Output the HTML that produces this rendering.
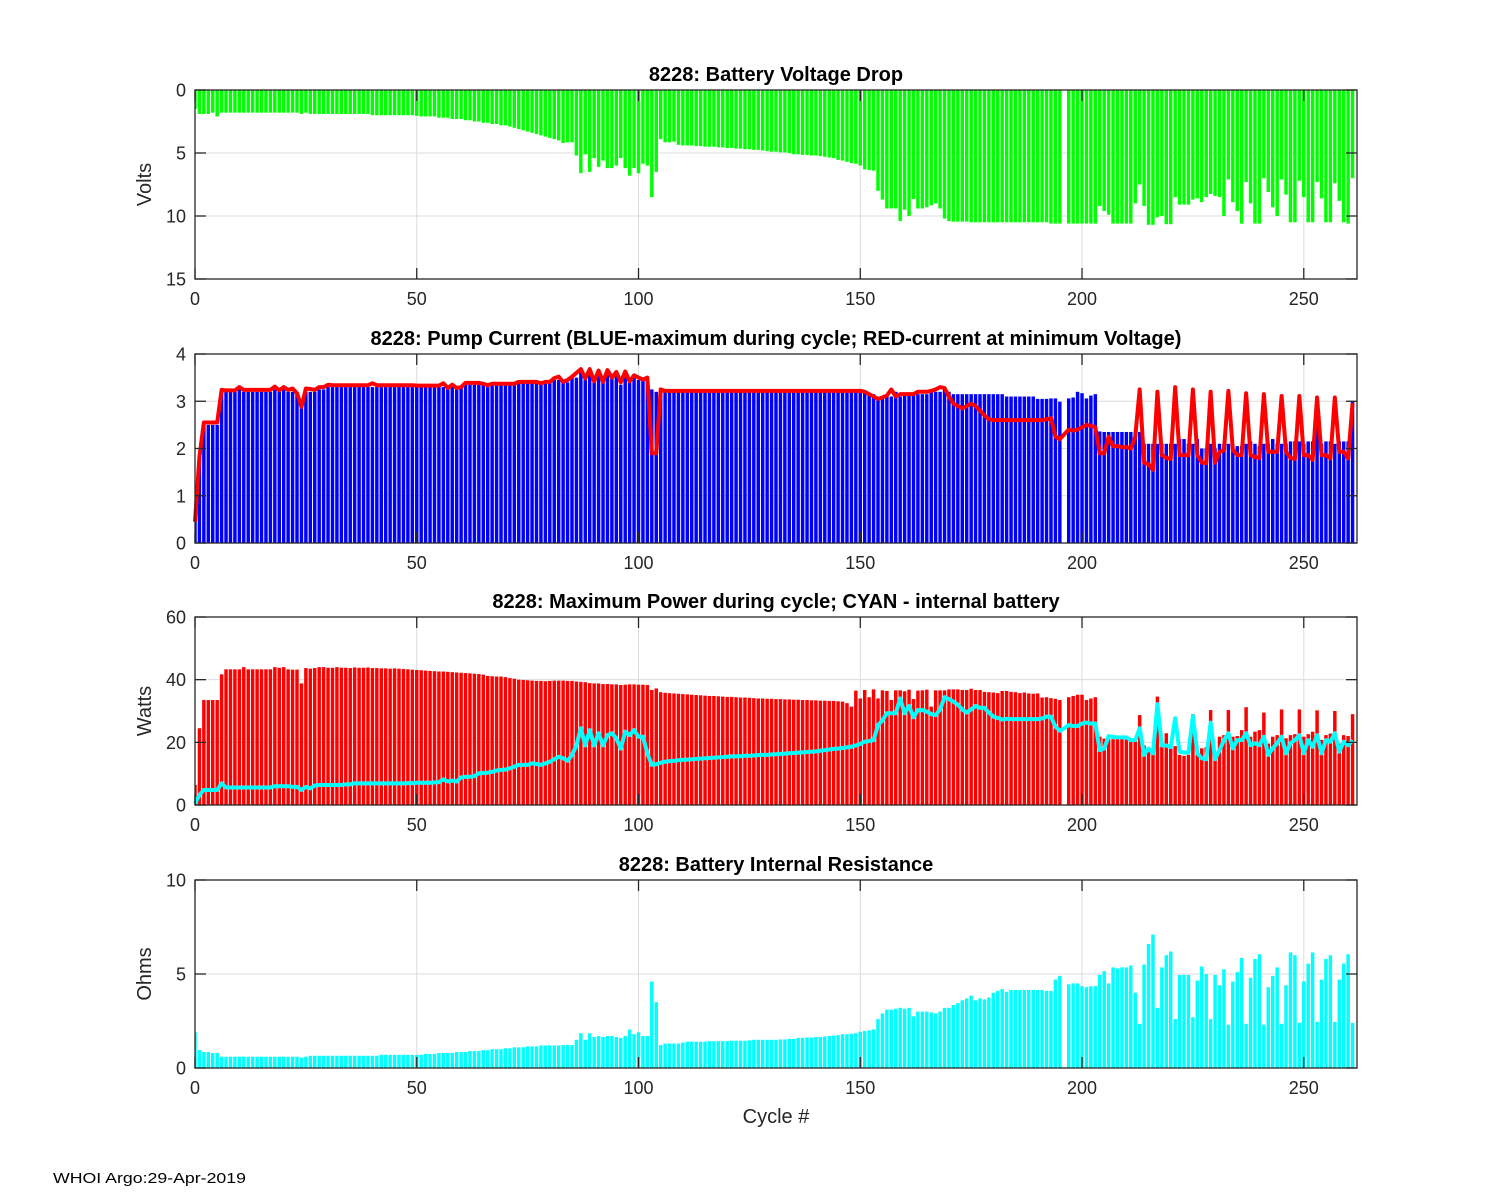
<!DOCTYPE html>
<html><head><meta charset="utf-8">
<style>
html,body{margin:0;padding:0;background:#fff;}
svg{display:block;font-family:"Liberation Sans",Arial,sans-serif;}
</style></head>
<body>
<svg id="chart" width="1500" height="1200" viewBox="0 0 1500 1200" xmlns="http://www.w3.org/2000/svg">
<rect x="0" y="0" width="1500" height="1200" fill="#fff"/>
<text x="776" y="1123" font-size="20" text-anchor="middle" fill="#262626">Cycle #</text>
<text x="53" y="1183" font-size="15" fill="#000" textLength="193" lengthAdjust="spacingAndGlyphs">WHOI Argo:29-Apr-2019</text>
</svg>
<script>
const voltageDrop = [
1.5,1.9,1.9,1.9,1.8,2.1,1.8,1.8,1.8,1.8,
1.8,1.8,1.8,1.8,1.8,1.8,1.8,1.8,1.8,1.8,
1.8,1.8,1.8,1.8,1.9,1.8,1.9,1.9,1.9,1.9,
1.9,1.9,1.9,1.9,1.9,1.9,1.9,1.9,1.9,1.9,
2.0,2.0,2.0,2.0,2.0,2.0,2.0,2.0,2.0,2.0,
2.05,2.1,2.1,2.1,2.1,2.2,2.2,2.2,2.3,2.3,
2.3,2.4,2.4,2.5,2.5,2.6,2.6,2.7,2.7,2.8,
2.8,2.9,3.0,3.1,3.2,3.3,3.4,3.5,3.6,3.7,
3.8,3.9,4.0,4.2,4.15,4.15,5.2,6.6,5.1,6.5,
5.4,6.1,5.6,6.2,6.2,6.0,5.4,6.2,6.8,6.2,
6.6,5.85,6.0,8.5,6.5,3.9,4.15,4.15,4.1,4.35,
4.4,4.4,4.4,4.45,4.45,4.5,4.5,4.5,4.55,4.55,
4.6,4.6,4.65,4.65,4.7,4.7,4.75,4.75,4.8,4.85,
4.9,4.9,4.95,4.95,5.0,5.1,5.1,5.15,5.15,5.2,
5.2,5.25,5.3,5.35,5.4,5.55,5.6,5.7,5.8,5.85,
6.0,6.3,6.35,6.4,8.0,8.7,9.4,9.4,9.4,10.4,
9.5,10.0,8.65,9.4,9.4,9.3,9.15,9.0,9.4,10.2,
10.4,10.45,10.45,10.45,10.45,10.5,10.5,10.5,10.5,10.5,
10.5,10.5,10.5,10.5,10.5,10.5,10.5,10.5,10.5,10.5,
10.5,10.5,10.5,10.6,10.6,10.6,null,10.6,10.6,10.6,
10.6,10.6,10.6,10.6,9.2,9.6,9.9,10.6,10.6,10.6,
10.6,10.6,9.0,7.5,9.2,10.7,10.7,10.1,10.0,10.65,
10.65,8.5,9.1,9.1,9.1,8.7,8.6,8.9,8.5,8.25,
8.4,8.5,10.0,7.1,8.9,9.6,10.6,7.3,9.0,10.6,
10.6,7.0,8.1,9.3,10.0,7.1,8.3,10.5,10.5,7.2,
8.5,10.5,10.5,7.3,8.6,10.5,10.5,7.4,8.8,10.5,
10.6,7.0];

const maxCurrent = [
0.45,1.8,2.5,2.5,2.5,2.5,3.2,3.2,3.2,3.2,
3.25,3.2,3.2,3.2,3.2,3.2,3.2,3.2,3.25,3.2,
3.25,3.2,3.2,3.15,2.9,3.2,3.2,3.2,3.25,3.25,
3.3,3.3,3.3,3.3,3.3,3.3,3.3,3.3,3.3,3.3,
3.3,3.3,3.3,3.3,3.3,3.3,3.3,3.3,3.3,3.3,
3.3,3.3,3.3,3.3,3.3,3.3,3.3,3.25,3.3,3.25,
3.3,3.35,3.35,3.35,3.35,3.35,3.3,3.35,3.35,3.35,
3.35,3.35,3.35,3.4,3.4,3.4,3.4,3.4,3.35,3.4,
3.4,3.45,3.45,3.4,3.4,3.5,3.5,3.65,3.45,3.65,
3.4,3.6,3.4,3.6,3.55,3.55,3.35,3.55,3.4,3.5,
3.45,3.45,3.45,3.25,3.2,3.2,3.2,3.2,3.2,3.2,
3.2,3.2,3.2,3.2,3.2,3.2,3.2,3.2,3.2,3.2,
3.2,3.2,3.2,3.2,3.2,3.2,3.2,3.2,3.2,3.2,
3.2,3.2,3.2,3.2,3.2,3.2,3.2,3.2,3.2,3.2,
3.2,3.2,3.2,3.2,3.2,3.2,3.2,3.2,3.2,3.2,
3.2,3.2,3.15,3.15,3.05,3.05,3.1,3.1,3.2,3.1,
3.15,3.15,3.15,3.15,3.15,3.15,3.2,3.2,3.2,3.25,
3.2,3.15,3.15,3.15,3.15,3.15,3.15,3.15,3.15,3.15,
3.15,3.15,3.15,3.1,3.1,3.1,3.1,3.1,3.1,3.1,
3.05,3.05,3.05,3.06,3.06,2.99,null,3.06,3.08,3.2,
3.17,3.06,3.12,3.15,2.36,2.35,2.35,2.35,2.35,2.35,
2.35,2.35,2.35,2.35,2.1,2.1,2.1,2.1,2.1,2.1,
2.1,2.1,2.2,2.2,2.1,2.1,2.2,2.0,2.0,2.1,
2.0,2.1,2.1,2.1,2.1,2.05,2.05,2.1,2.15,2.1,
2.05,2.1,2.1,2.2,2.1,2.1,2.1,2.15,2.15,2.15,
2.1,2.15,2.15,3.1,2.1,2.15,2.15,2.1,2.15,2.15,
2.15,3.0];

const minVoltCurrent = [
0.45,1.83,2.55,2.55,2.55,2.55,3.24,3.23,3.23,3.23,
3.3,3.24,3.24,3.24,3.24,3.24,3.24,3.24,3.31,3.23,
3.3,3.24,3.27,3.17,2.88,3.27,3.26,3.24,3.3,3.3,
3.35,3.34,3.34,3.34,3.34,3.34,3.34,3.34,3.34,3.34,
3.38,3.34,3.34,3.34,3.34,3.34,3.34,3.34,3.34,3.34,
3.33,3.33,3.33,3.33,3.33,3.33,3.38,3.28,3.35,3.28,
3.3,3.39,3.39,3.39,3.39,3.37,3.34,3.37,3.37,3.37,
3.37,3.37,3.37,3.41,3.41,3.41,3.41,3.41,3.38,3.41,
3.41,3.49,3.52,3.41,3.45,3.52,3.6,3.68,3.48,3.68,
3.42,3.65,3.41,3.66,3.5,3.62,3.4,3.63,3.42,3.55,
3.5,3.46,3.5,1.9,1.9,3.25,3.22,3.22,3.22,3.22,
3.22,3.22,3.22,3.22,3.22,3.22,3.22,3.22,3.22,3.22,
3.22,3.22,3.22,3.22,3.22,3.22,3.22,3.22,3.22,3.22,
3.22,3.22,3.22,3.22,3.22,3.22,3.22,3.22,3.22,3.22,
3.22,3.22,3.22,3.22,3.22,3.22,3.22,3.22,3.22,3.22,
3.22,3.2,3.15,3.1,3.05,3.08,3.12,3.25,3.1,3.15,
3.15,3.15,3.15,3.2,3.2,3.2,3.22,3.25,3.3,3.28,
3.1,2.95,2.9,2.85,2.9,2.95,2.9,2.8,2.7,2.62,
2.6,2.6,2.6,2.6,2.6,2.6,2.6,2.6,2.6,2.6,
2.6,2.6,2.62,2.64,2.25,2.2,2.3,2.4,2.38,2.4,
2.45,2.5,2.48,2.45,1.9,1.9,2.25,2.05,2.05,2.03,
2.03,2.0,2.25,3.25,1.7,1.67,1.55,3.2,1.86,1.8,
1.78,3.3,1.86,1.86,1.86,3.25,1.86,1.7,1.69,3.2,
1.7,1.93,1.96,3.22,1.97,1.86,1.86,3.17,1.86,1.82,
1.8,3.15,1.93,1.93,1.93,3.11,1.93,1.8,1.78,3.11,
1.86,1.86,1.76,3.08,1.86,1.86,1.79,3.08,1.93,1.93,
1.79,2.96];

const maxPower = [
6.4,24.5,33.5,33.5,33.5,33.5,41.7,43.3,43.3,43.3,
43.3,44,43.3,43.3,43.3,43.3,43.3,43.3,44,43.8,
44,43.3,43.2,43.2,38.8,43.7,43.5,43.7,44,44,
43.8,43.8,44,43.8,43.8,43.7,43.9,43.8,43.8,43.9,
43.7,43.7,43.6,43.6,43.5,43.6,43.5,43.4,43.3,43.2,
43.1,43,42.9,42.8,42.7,42.6,42.6,42.5,42.4,42.3,
42.2,42.1,42,41.9,41.8,41.6,41.2,41.1,41,41,
40.8,40.5,40.3,40,39.9,39.8,39.7,39.6,39.6,39.5,
39.6,39.7,39.7,39.7,39.6,39.6,39.4,39.3,39.2,38.9,
38.8,38.8,38.6,38.6,38.5,38.5,38.3,38.4,38.5,38.5,
38.4,38.4,38.3,36.7,37.2,36.0,35.8,35.7,35.6,35.5,
35.4,35.3,35.2,35.1,35.0,34.9,34.8,34.8,34.7,34.6,
34.5,34.5,34.4,34.3,34.3,34.2,34.1,34.0,34.0,33.9,
33.9,33.8,33.8,33.7,33.7,33.6,33.6,33.5,33.5,33.4,
33.4,33.3,33.3,33.2,33.2,33.1,33.0,32.5,31.4,36.5,
34.0,36.7,34.4,36.9,34.0,36.6,36.4,33.5,36.6,36.6,
36.3,36.8,33.8,36.5,36.6,36.8,31.4,36.6,36.6,36.6,
36.9,36.9,36.9,36.7,36.7,37.1,36.7,36.7,36.1,36.0,
35.9,35.7,36.4,36.4,36.1,36.0,35.7,35.9,35.6,35.5,
35.6,34.3,34.4,34.1,33.9,33.5,null,34.4,34.8,35.2,
35.2,33.5,34.0,34.4,21.8,21.2,21,21,21.2,21.3,
21,21.2,21,28.7,19,18.4,16.5,34.6,18.6,22.9,
18.6,18.8,16,15.7,16,29,16.5,18.1,18.4,30.3,
16.5,21.8,22.3,30.3,21.8,22,23.9,31.2,21.8,23.4,
23.9,29.5,19.6,21.8,22.3,30.5,21.3,22.3,22.6,30.5,
21.8,22.6,23.4,30.2,20.8,22.3,22.8,30,19.6,22.3,
22,29];

const internalPower = [
0.5,3.2,4.8,4.8,4.8,4.8,6.9,5.6,5.6,5.6,
5.6,5.6,5.6,5.6,5.6,5.6,5.6,5.6,6.0,6.0,
6.0,6.0,5.8,5.8,4.8,5.8,5.3,6.2,6.4,6.4,
6.4,6.4,6.4,6.4,6.6,6.6,6.9,6.9,6.9,6.9,
6.9,6.9,6.9,6.9,6.9,6.9,6.9,6.9,7.0,7.0,
7.1,7.1,7.1,7.1,7.2,7.3,8.2,7.5,7.8,7.5,
8.8,9.0,9.0,9.2,10.1,10.2,10.3,10.6,11.0,11.2,
11.3,11.7,12.2,12.8,12.8,12.8,13.3,13.1,12.8,13.3,
13.8,14.6,15.4,14.9,14.1,16.0,19.0,24.5,19.0,23.9,
19.0,22.9,19.0,22.3,22.9,21.3,18.0,23.4,22.3,23.9,
21.8,21.8,16.5,12.8,13.0,13.5,13.8,14.0,14.1,14.3,
14.4,14.5,14.6,14.7,14.8,14.9,15.0,15.1,15.2,15.3,
15.4,15.5,15.5,15.6,15.7,15.7,15.8,15.9,16.0,16.0,
16.1,16.2,16.3,16.4,16.5,16.6,16.7,16.8,16.9,17.0,
17.1,17.3,17.5,17.7,17.9,18.0,18.2,18.4,18.6,19.0,
19.5,20.2,20.4,20.7,25.5,27,29.3,29.3,29.3,34,
29.3,31.6,28,30.3,30.3,29.8,29.0,28.7,30.5,34.4,
33.8,33.0,32,30.5,29.5,30.5,31.6,31.0,31.0,29.5,
28.2,27.8,27.3,27.5,27.4,27.4,27.4,27.4,27.4,27.4,
27.4,27.6,28.2,28.2,25,23.7,24.5,25.5,25.2,25.2,
26,26.3,26,26,17.5,18,22,21.7,21.6,21.6,
21.6,20.7,20.7,24.5,16,18,16.5,32.2,19,19,
18.5,27.7,17,16.7,16.7,28.4,16.5,14.9,14.6,26.3,
14.6,17.5,20.7,22.9,18.1,20.7,20.7,22.9,19.1,19.7,
19.1,21.8,16,18.1,19.7,21.8,16.5,19.7,20.7,22.3,
16.5,20.7,18.6,22.3,16.5,20.7,20.2,22.9,17,20.2,
19.1,20.7];

const resistance = [
1.9,0.95,0.85,0.85,0.8,0.8,0.6,0.6,0.6,0.6,
0.6,0.6,0.6,0.6,0.6,0.6,0.6,0.6,0.6,0.6,
0.6,0.6,0.6,0.6,0.55,0.6,0.65,0.65,0.65,0.65,
0.65,0.65,0.65,0.65,0.65,0.65,0.65,0.65,0.65,0.65,
0.65,0.65,0.7,0.7,0.7,0.7,0.7,0.7,0.7,0.7,
0.7,0.7,0.75,0.75,0.75,0.8,0.8,0.8,0.8,0.85,
0.85,0.85,0.9,0.9,0.9,0.95,0.95,1.0,1.0,1.0,
1.05,1.05,1.1,1.1,1.1,1.15,1.15,1.15,1.2,1.2,
1.2,1.2,1.2,1.22,1.23,1.22,1.5,1.85,1.5,1.85,
1.65,1.7,1.65,1.7,1.7,1.65,1.6,1.7,2.05,1.8,
1.9,1.7,1.7,4.6,3.5,1.22,1.3,1.3,1.3,1.3,
1.35,1.4,1.4,1.4,1.4,1.4,1.43,1.43,1.43,1.43,
1.43,1.45,1.45,1.45,1.45,1.47,1.5,1.5,1.5,1.5,
1.5,1.5,1.52,1.52,1.55,1.55,1.6,1.6,1.62,1.62,
1.65,1.65,1.68,1.7,1.72,1.75,1.8,1.8,1.82,1.85,
1.93,1.97,2.0,2.05,2.6,2.9,3.1,3.1,3.15,3.2,
3.15,3.2,2.75,3.0,3.0,3.0,2.95,2.9,3.0,3.2,
3.2,3.35,3.45,3.6,3.7,3.85,3.6,3.7,3.65,3.75,
4.0,4.1,4.2,4.05,4.15,4.15,4.15,4.15,4.15,4.15,
4.15,4.15,4.1,4.1,4.7,4.9,null,4.45,4.5,4.5,
4.35,4.3,4.35,4.35,4.95,5.15,4.5,5.35,5.3,5.35,
5.35,5.45,4.0,2.35,5.5,6.6,7.1,3.2,5.35,6.0,
6.2,2.6,4.95,4.95,4.95,2.7,4.65,5.4,5.0,2.6,
4.95,4.4,5.25,2.3,4.6,5.1,5.85,2.35,4.8,5.8,
6.05,2.3,4.3,4.9,5.35,2.35,4.4,6.15,6.0,2.4,
4.6,5.55,6.15,2.45,4.7,5.8,6.0,2.45,4.7,5.55,
6.05,2.4];

const xTicks = [0,50,100,150,200,250];
const voltTicks = [0,5,10,15];
const currentTicks = [0,1,2,3,4];
const powerTicks = [0,20,40,60];
const ohmTicks = [0,5,10];

const NS = "http://www.w3.org/2000/svg";
const svg = document.getElementById('chart');
const X0 = 195, X1 = 1357, XMAX = 262;
function xScale(c){ return X0 + (c / XMAX) * (X1 - X0); }
function mk(tag, attrs, parent){
  const e = document.createElementNS(NS, tag);
  for (const k in attrs) e.setAttribute(k, attrs[k]);
  (parent || svg).appendChild(e);
  return e;
}
const defs = mk('defs', {});
let clipN = 0;

function panel(cfg){
  const g = mk('g', {});
  
  
  const top = cfg.top, bot = cfg.bottom;
  const yScale = v => cfg.reverse ? top + (v - cfg.min) / (cfg.max - cfg.min) * (bot - top)
                                    : bot - (v - cfg.min) / (cfg.max - cfg.min) * (bot - top);
  const cid = 'clip' + (clipN++);
  const cp = mk('clipPath', {id: cid}, defs);
  mk('rect', {x: X0, y: top - 3, width: X1 - X0, height: bot - top + 3}, cp);
  xTicks.forEach(t => {
    const l = mk('line', {x1: xScale(t), x2: xScale(t), y1: top, y2: bot, stroke: '#dcdcdc', 'stroke-width': 1}, g);
    
    
  });
  cfg.yTicks.forEach(t => {
    const l = mk('line', {x1: X0, x2: X1, y1: yScale(t), y2: yScale(t), stroke: '#dcdcdc', 'stroke-width': 1}, g);
    
    
  });
  const marks = mk('g', {'clip-path': 'url(#' + cid + ')'}, g);
  
  
  const bw = (X1 - X0) / XMAX * 0.78;
  cfg.bars.forEach((v, i) => {
    if (v === null) return;
    const y0 = yScale(0), y1 = yScale(v);
    const r = mk('rect', {x: xScale(i) - bw / 2, y: Math.min(y0, y1), width: bw, height: Math.abs(y1 - y0), fill: cfg.barColor}, marks);
    
    
  });
  if (cfg.line) {
    let d = '';
    cfg.line.forEach((v, i) => { if (v !== null) d += (d ? 'L' : 'M') + xScale(i).toFixed(2) + ' ' + yScale(v).toFixed(2); });
    const p = mk('path', {d: d, fill: 'none', stroke: cfg.lineColor, 'stroke-width': 4, 'stroke-linejoin': 'round'}, g);
    
    
  }
  const box = mk('rect', {x: X0, y: top, width: X1 - X0, height: bot - top, fill: 'none', stroke: '#262626', 'stroke-width': 1.3}, g);
  
  
  const tl = 11;
  xTicks.forEach(t => {
    const x = xScale(t);
    mk('line', {x1: x, x2: x, y1: bot, y2: bot - tl, stroke: '#262626', 'stroke-width': 1.3}, g);
    mk('line', {x1: x, x2: x, y1: top, y2: top + tl, stroke: '#262626', 'stroke-width': 1.3}, g);
    const tx = mk('text', {x: x, y: bot + 26, 'font-size': 18, 'text-anchor': 'middle', fill: '#262626'}, g);
    
    
    tx.textContent = t;
  });
  cfg.yTicks.forEach(t => {
    const y = yScale(t);
    mk('line', {x1: X0, x2: X0 + tl, y1: y, y2: y, stroke: '#262626', 'stroke-width': 1.3}, g);
    mk('line', {x1: X1, x2: X1 - tl, y1: y, y2: y, stroke: '#262626', 'stroke-width': 1.3}, g);
    const ty = mk('text', {x: X0 - 9, y: y + 6.5, 'font-size': 18, 'text-anchor': 'end', fill: '#262626'}, g);
    
    
    ty.textContent = t;
  });
  const tt = mk('text', {x: (X0 + X1) / 2, y: top - 9, 'font-size': 20, 'font-weight': 'bold', 'text-anchor': 'middle', fill: '#000'}, g);
  
  
  tt.textContent = cfg.title;
  if (cfg.ylabel) {
    const cy = (top + bot) / 2;
    const yl = mk('text', {x: 151, y: cy, 'font-size': 20, 'text-anchor': 'middle', fill: '#262626', transform: 'rotate(-90 151 ' + cy + ')'}, g);
    
    
    yl.textContent = cfg.ylabel;
  }
}

panel({name: 'voltage-drop-panel', top: 90, bottom: 279, min: 0, max: 15, reverse: true, yTicks: voltTicks,
  bars: voltageDrop, barColor: '#00ff00', title: '8228: Battery Voltage Drop', ylabel: 'Volts'});
panel({name: 'pump-current-panel', top: 354, bottom: 543, min: 0, max: 4, yTicks: currentTicks,
  bars: maxCurrent, barColor: '#0000ff', line: minVoltCurrent, lineColor: '#ff0000', lineName: 'current-at-min-voltage-line',
  title: '8228: Pump Current (BLUE-maximum during cycle; RED-current at minimum Voltage)', ylabel: ''});
panel({name: 'max-power-panel', top: 617, bottom: 805, min: 0, max: 60, yTicks: powerTicks,
  bars: maxPower, barColor: '#ff0000', line: internalPower, lineColor: '#00ffff', lineName: 'internal-battery-power-line',
  title: '8228: Maximum Power during cycle; CYAN - internal battery', ylabel: 'Watts'});
panel({name: 'internal-resistance-panel', top: 880, bottom: 1068, min: 0, max: 10, yTicks: ohmTicks,
  bars: resistance, barColor: '#00ffff', title: '8228: Battery Internal Resistance', ylabel: 'Ohms'});
</script>
</body></html>
